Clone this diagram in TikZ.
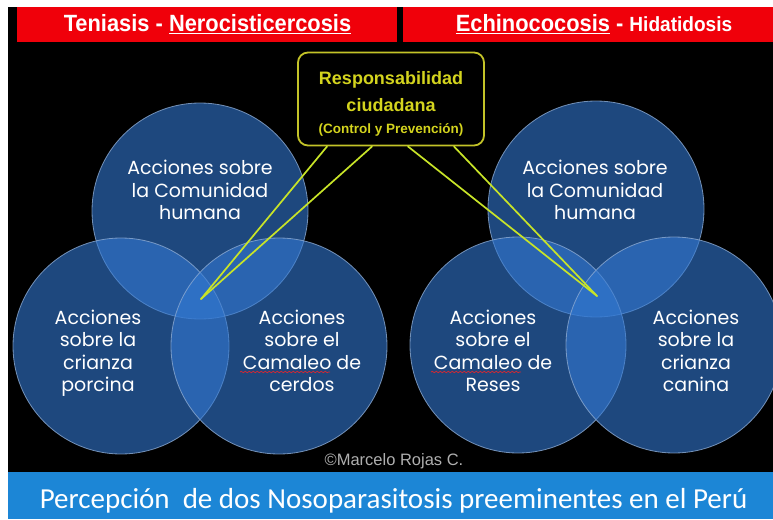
\documentclass[tikz,border=0pt]{standalone}
\usepackage{fontspec}
\setmainfont{Liberation Sans}
\newfontfamily\circfont{Poppins}
\newfontfamily\titlefont{Carlito}
\usetikzlibrary{decorations.pathmorphing,calc}
\definecolor{hdrred}{RGB}{240,0,10}
\definecolor{bandblue}{RGB}{28,134,214}
\definecolor{vennblue}{RGB}{50,120,210}
\definecolor{vennedge}{RGB}{140,170,210}
\definecolor{ylw}{RGB}{212,212,30}
\definecolor{ylwbox}{RGB}{195,195,40}
\definecolor{ylwline}{RGB}{200,228,40}
\definecolor{copygray}{RGB}{175,175,175}
\definecolor{spellred}{RGB}{210,40,50}
\begin{document}
\begin{tikzpicture}[x=1pt,y=-1pt,
  venn/.style={circle,minimum size=216pt,inner sep=0pt,fill=vennblue,fill opacity=0.6,draw=vennedge,draw opacity=0.8,line width=0.8pt},
  ctext/.style={text=white,align=center,font=\circfont\fontsize{19}{22.5}\selectfont},
  hdr/.style={text=white,font=\bfseries\fontsize{23.5}{24}\selectfont},
  callout/.style={draw=ylwline,line width=1.7pt,line cap=round},
  spell/.style={draw=spellred,line width=0.8pt,decorate,decoration={snake,amplitude=0.7pt,segment length=4pt}}]
\useasboundingbox (0,0) rectangle (773,519);
\clip (0,0) rectangle (773,519);
\fill[white] (0,0) rectangle (773,519);
\fill[black] (8,7) rectangle (773,472);
\fill[bandblue] (8,472) rectangle (773,519);
\fill[hdrred] (17,7) rectangle (397,42);
\fill[hdrred] (403,7) rectangle (773,42);

% headers
\node[hdr,anchor=base] (h1) at (207.5,32) {\scalebox{0.93}[1]{Teniasis - \underline{Nerocisticercosis}}};
\node[hdr,anchor=base] (h2) at (594,32) {\scalebox{0.93}[1]{\underline{Echinococosis} - {\fontsize{20.5}{21}\selectfont Hidatidosis}}};

% left venn
\node[venn] (lt) at (200,211) {};
\node[venn] (ll) at (121,346) {};
\node[venn] (lr) at (279,346) {};
% right venn
\node[venn] (rt) at (596,209) {};
\node[venn] (rl) at (518,345) {};
\node[venn] (rr) at (674,345) {};

% responsibility box
\node[draw=ylwbox,line width=1.8pt,rounded corners=10pt,minimum width=186pt,minimum height=93pt,
  inner sep=0pt,fill=black] (box) at (391,99) {};
\node[align=center,text=ylw,font=\bfseries\fontsize{18}{27}\selectfont] (boxtxt) at ($(box.center)+(0,5)$)
  {Responsabilidad\\ciudadana\\[-5pt]{\fontsize{13.5}{16}\selectfont (Control y Prevención)}};

% callout lines
\coordinate (lA) at ($(box.south west)+(30,0)$);
\coordinate (lB) at ($(box.south west)+(75,0)$);
\coordinate (lP) at (201,299);
\coordinate (rA) at ($(box.south east)+(-77,0)$);
\coordinate (rB) at ($(box.south east)+(-31,0)$);
\coordinate (rP) at (597,296);
\draw[callout] (lA) -- (lP);
\draw[callout] (lB) -- (lP);
\draw[callout] (rA) -- (rP);
\draw[callout] (rB) -- (rP);

% circle texts
\node[ctext] (t1) at (200,190) {Acciones sobre\\la Comunidad\\humana};
\node[ctext] (t2) at (98,353) {Acciones\\sobre la\\crianza\\porcina};
\node[ctext] (t3) at (302,351) {Acciones\\sobre el\\Camaleo de\\cerdos};
\node[ctext] (t4) at (595,190) {Acciones sobre\\la Comunidad\\humana};
\node[ctext] (t5) at (493,351) {Acciones\\sobre el\\Camaleo de\\Reses};
\node[ctext] (t6) at (696,351) {Acciones\\sobre la\\crianza\\canina};
\draw[spell] (240,372) -- (330,372);
\draw[spell] (431,372) -- (521,372);

% footer
\node[text=copygray,font=\fontsize{16.5}{18}\selectfont,anchor=base] (copy) at (394,465) {©Marcelo Rojas C.};
\node[text=white,font=\titlefont\fontsize{29}{30}\selectfont,anchor=base] (title) at (393.5,508)
  {Percepción\ \ de dos Nosoparasitosis preeminentes en el Perú};
\end{tikzpicture}
\end{document}
